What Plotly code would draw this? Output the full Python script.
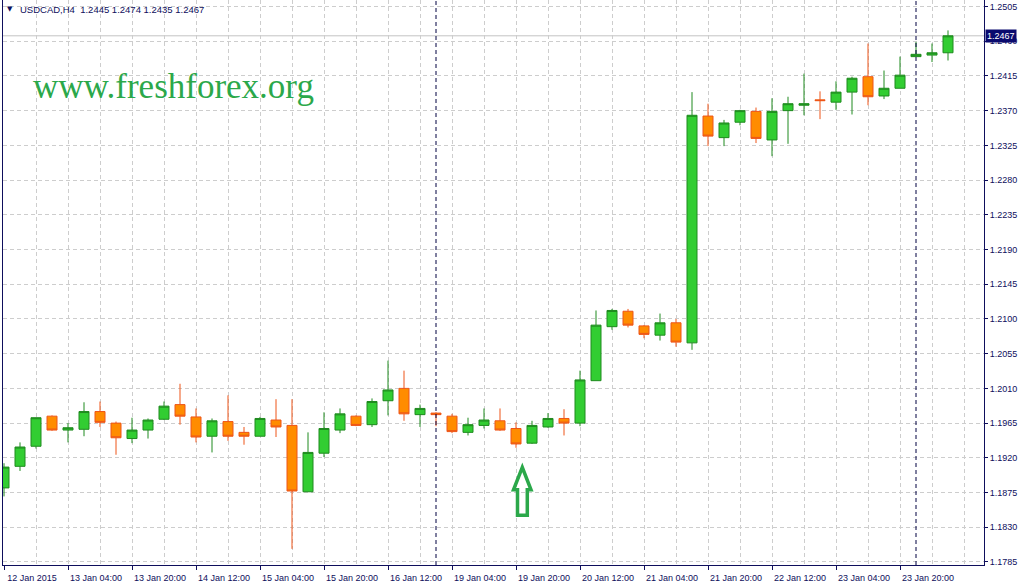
import plotly.graph_objects as go

symbol = "USDCAD,H4"
bar_index = list(range(60))

open_ = [1.1881, 1.1909, 1.1935, 1.1974, 1.1956, 1.1957, 1.1980, 1.1965, 1.1945, 1.1956,
         1.1970, 1.1989, 1.1973, 1.1948, 1.1967, 1.1953, 1.1948, 1.1969, 1.1962, 1.1876,
         1.1926, 1.1956, 1.1974, 1.1963, 1.1994, 1.2010, 1.1976, 1.1978, 1.1974, 1.1953,
         1.1962, 1.1968, 1.1958, 1.1939, 1.1960, 1.1971, 1.1965, 1.2020, 1.2090, 1.2110,
         1.2091, 1.2079, 1.2095, 1.2069, 1.2363, 1.2335, 1.2355, 1.2369, 1.2332, 1.2370,
         1.2377, 1.2384, 1.2381, 1.2394, 1.2414, 1.2389, 1.2399, 1.2440, 1.2442, 1.2445]
high = [1.1913, 1.1940, 1.1972, 1.1975, 1.1965, 1.1992, 1.1993, 1.1967, 1.1972, 1.1971,
        1.1993, 1.2016, 1.1984, 1.1971, 1.2001, 1.1960, 1.1973, 1.1996, 1.1996, 1.1953,
        1.1979, 1.1984, 1.1975, 1.1997, 1.2046, 1.2033, 1.1989, 1.1979, 1.1977, 1.1972,
        1.1984, 1.1984, 1.1966, 1.1968, 1.1978, 1.1983, 1.2033, 1.2111, 1.2113, 1.2113,
        1.2092, 1.2107, 1.2100, 1.2394, 1.2379, 1.2358, 1.2371, 1.2374, 1.2386, 1.2388,
        1.2418, 1.2395, 1.2408, 1.2414, 1.2457, 1.2422, 1.2440, 1.2459, 1.2457, 1.2474]
low = [1.1870, 1.1903, 1.1932, 1.1955, 1.1940, 1.1948, 1.1960, 1.1924, 1.1939, 1.1945,
       1.1969, 1.1963, 1.1940, 1.1927, 1.1942, 1.1937, 1.1948, 1.1947, 1.1802, 1.1876,
       1.1921, 1.1952, 1.1961, 1.1960, 1.1975, 1.1968, 1.1960, 1.1961, 1.1952, 1.1949,
       1.1958, 1.1955, 1.1933, 1.1938, 1.1959, 1.1949, 1.1961, 1.2020, 1.2086, 1.2089,
       1.2075, 1.2072, 1.2064, 1.2060, 1.2324, 1.2324, 1.2351, 1.2328, 1.2311, 1.2327,
       1.2364, 1.2359, 1.2371, 1.2365, 1.2377, 1.2385, 1.2399, 1.2440, 1.2433, 1.2435]
close = [1.1908, 1.1934, 1.1972, 1.1956, 1.1959, 1.1980, 1.1966, 1.1946, 1.1956, 1.1969,
         1.1987, 1.1974, 1.1947, 1.1968, 1.1948, 1.1948, 1.1971, 1.1960, 1.1877, 1.1927,
         1.1958, 1.1977, 1.1962, 1.1993, 1.2008, 1.1977, 1.1984, 1.1976, 1.1954, 1.1963,
         1.1969, 1.1956, 1.1938, 1.1962, 1.1971, 1.1965, 1.2021, 1.2092, 1.2111, 1.2092,
         1.2080, 1.2095, 1.2070, 1.2364, 1.2337, 1.2354, 1.2370, 1.2334, 1.2369, 1.2379,
         1.2379, 1.2383, 1.2394, 1.2412, 1.2388, 1.2399, 1.2416, 1.2443, 1.2445, 1.2467]

tick_positions = [0, 4, 8, 12, 16, 20, 24, 28, 32, 36, 40, 44, 48, 52, 56]
tick_labels = ["12 Jan 2015", "13 Jan 04:00", "13 Jan 20:00", "14 Jan 12:00", "15 Jan 04:00",
               "15 Jan 20:00", "16 Jan 12:00", "19 Jan 04:00", "19 Jan 20:00", "20 Jan 12:00",
               "21 Jan 04:00", "21 Jan 20:00", "22 Jan 12:00", "23 Jan 04:00", "23 Jan 20:00"]
week_separators = [27, 57]
price_tick0 = 1.1785
price_step = 0.0045

NAVY = "#0E0E5C"
GRID = "#CDCDCD"
GREEN_TXT = "#2BA84A"

fig = go.Figure()
fig.add_trace(go.Candlestick(
    x=bar_index, open=open_, high=high, low=low, close=close,
    increasing=dict(line=dict(color="#1F8A1F", width=1), fillcolor="#32CD32"),
    decreasing=dict(line=dict(color="#EE5518", width=1), fillcolor="#FF8C00"),
    whiskerwidth=0, hoverinfo="skip", showlegend=False,
))

shapes = []
for s in week_separators:
    shapes.append(dict(type="line", xref="x", yref="paper", x0=s, x1=s, y0=0, y1=1,
                       line=dict(color="#000040", width=1, dash="4px,3px"), layer="above"))
# bid line at last close
shapes.append(dict(type="line", xref="paper", yref="y", x0=0, x1=1, y0=close[-1], y1=close[-1],
                   line=dict(color="#C4C4C4", width=1), layer="below"))
# up arrow drawing
arrow_x = [32.394, 31.844, 32.094, 32.094, 32.706, 32.706, 32.938]
arrow_y = [1.19077, 1.18786, 1.18786, 1.18457, 1.18457, 1.18786, 1.18786]
path = "M " + " L ".join(f"{x},{y}" for x, y in zip(arrow_x, arrow_y)) + " Z"
shapes.append(dict(type="path", xref="x", yref="y", path=path,
                   line=dict(color=GREEN_TXT, width=3.5), fillcolor="rgba(0,0,0,0)"))

header = "\u00a0".join([symbol, ""] + [f"{v:.4f}" for v in (open_[-1], high[-1], low[-1], close[-1])])
annotations = [
    dict(xref="paper", yref="paper", x=0, y=1, xanchor="left", yanchor="top",
         xshift=2, yshift=-3, text="\u25bc", showarrow=False,
         font=dict(size=7, color=NAVY, family="DejaVu Sans")),
    dict(xref="paper", yref="paper", x=0, y=1, xanchor="left", yanchor="top",
         xshift=15, yshift=-2, text=header, showarrow=False,
         font=dict(size=9.5, color=NAVY, family="Liberation Sans")),
    dict(xref="paper", yref="paper", x=0, y=(567 - 87) / 567, xanchor="left", yanchor="middle",
         xshift=28, text="www.freshforex.org", showarrow=False,
         font=dict(size=35, color=GREEN_TXT, family="Liberation Serif")),
    dict(xref="paper", yref="y", x=1, y=close[-1], xanchor="left", yanchor="middle",
         xshift=1, text=f"{close[-1]:.4f}", showarrow=False, bgcolor="#0A0A6E",
         borderpad=1, font=dict(size=9, color="white", family="Liberation Sans")),
]

fig.update_layout(
    width=1025, height=583,
    margin=dict(l=3, r=41, t=0, b=16),
    paper_bgcolor="white", plot_bgcolor="white",
    showlegend=False, hovermode=False,
    boxgap=0.375, boxgroupgap=0,
    font=dict(family="Liberation Sans", size=9, color=NAVY),
    shapes=shapes, annotations=annotations,
    xaxis=dict(
        range=[-0.0625, 61.25], tickmode="array", tickvals=tick_positions, ticktext=tick_labels,
        ticks="outside", ticklen=4, tickcolor=NAVY, ticklabelshift=28,
        showline=True, linecolor=NAVY, linewidth=1,
        showgrid=True, gridcolor=GRID, griddash="4px,3px", gridwidth=1,
        minor=dict(tickmode="linear", tick0=0, dtick=2, showgrid=True, gridcolor=GRID,
                   griddash="4px,3px", ticks=""),
        zeroline=False, rangeslider=dict(visible=False), fixedrange=True,
        tickfont=dict(size=9, color=NAVY),
    ),
    yaxis=dict(
        side="right", range=[1.17811, 1.25134], tickmode="linear", tick0=price_tick0,
        dtick=price_step, tickformat=".4f", ticks="outside", ticklen=3, tickcolor=NAVY,
        showline=True, mirror=True, linecolor=NAVY, linewidth=1,
        showgrid=True, gridcolor=GRID, griddash="4px,3px", gridwidth=1,
        zeroline=False, fixedrange=True, tickfont=dict(size=9, color=NAVY),
    ),
)

fig.write_html("out.html", config={"displayModeBar": False},
               post_script="document.body.style.margin='0px';document.body.style.overflow='hidden';")
